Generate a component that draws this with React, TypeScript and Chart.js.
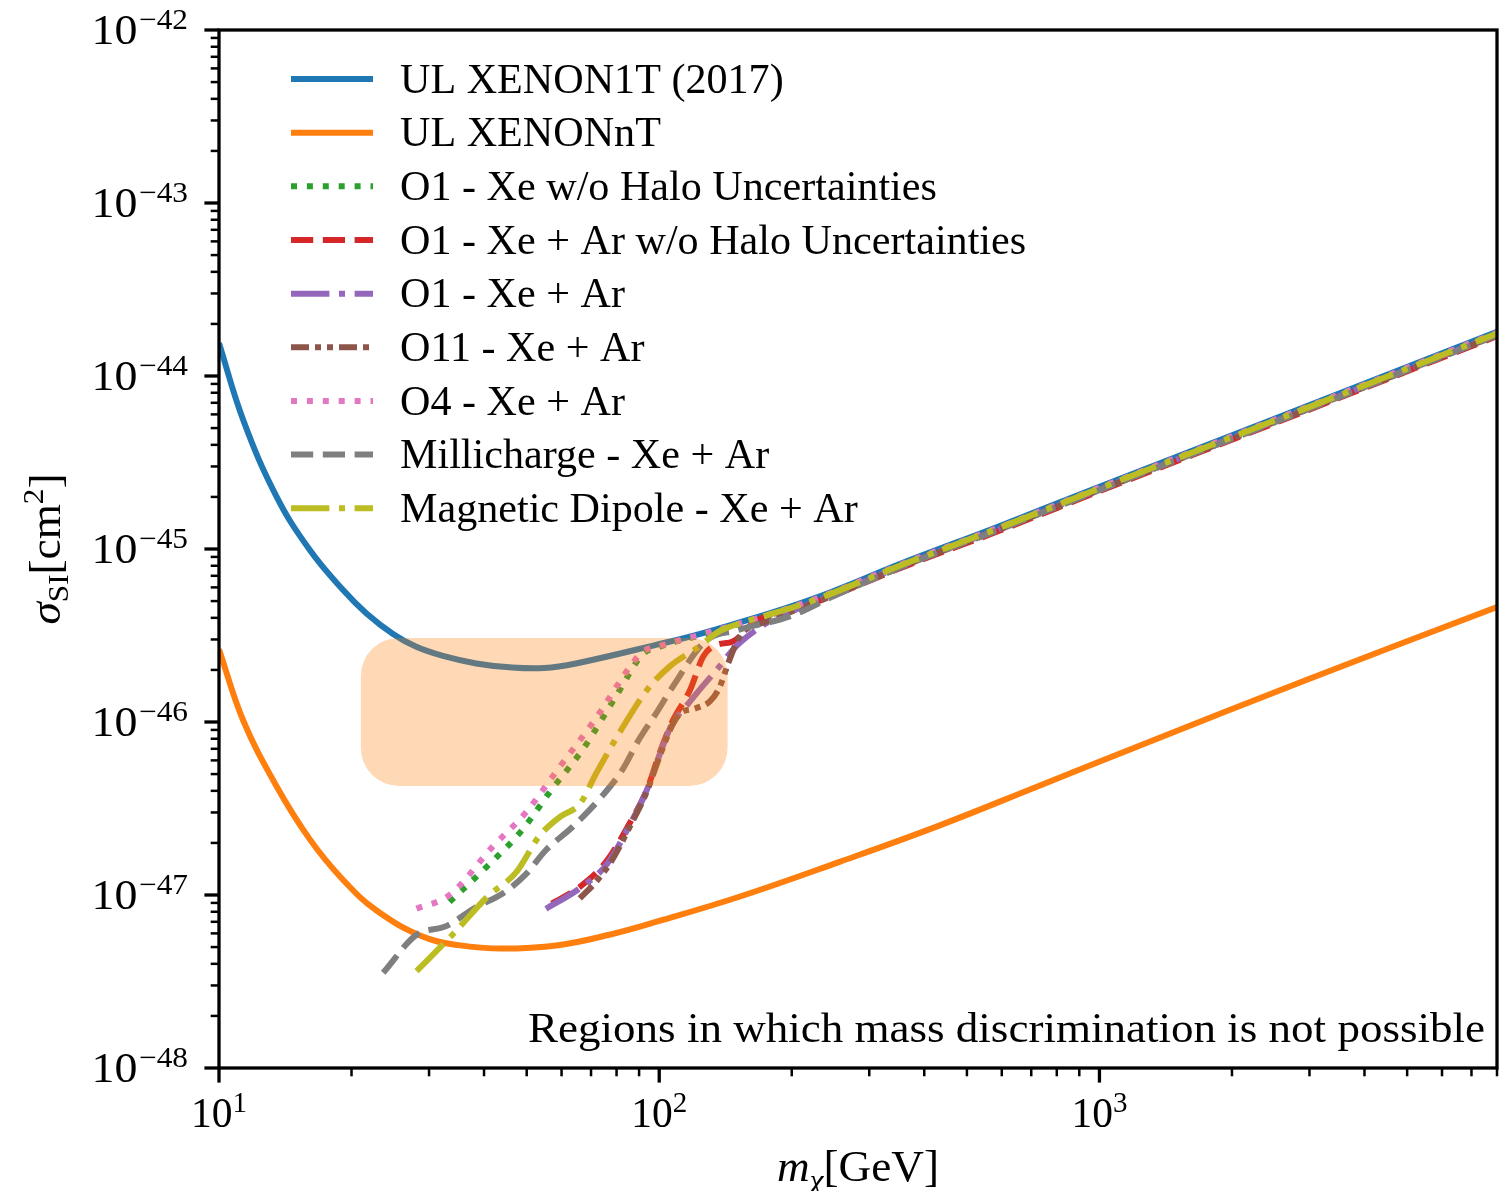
import React, { useEffect, useRef } from 'react';
import { Chart, registerables } from 'chart.js';

Chart.register(...registerables);

// ---------------- data (m_chi in GeV, sigma_SI in cm^2) ----------------
const massXenon1T = [10, 11.35, 13.51, 16.08, 19.14, 21.63, 24.85, 28.07, 32.26, 38.4, 45.7, 54.8, 64.7, 98.3, 128, 217, 366, 590, 1000, 2400, 8000];
const sigmaXenon1T = [1.55e-44, 5.57e-45, 2.01e-45, 9.86e-46, 5.79e-46, 4.24e-46, 3.23e-46, 2.72e-46, 2.41e-46, 2.18e-46, 2.07e-46, 2.05e-46, 2.18e-46, 2.79e-46, 3.31e-46, 5.01e-46, 8.51e-46, 1.35e-45, 2.29e-45, 5.43e-45, 1.8e-44];

const massXenonNT = [10, 11.35, 13.5, 16.1, 19.1, 22.8, 29, 35, 44, 59, 77, 100, 152, 256, 431, 728, 1225, 3000, 8000];
const sigmaXenonNT = [2.63e-46, 1.02e-46, 4.27e-47, 2.09e-47, 1.23e-47, 8.13e-48, 5.75e-48, 5.13e-48, 4.9e-48, 5.13e-48, 5.89e-48, 7.08e-48, 9.77e-48, 1.55e-47, 2.51e-47, 4.27e-47, 7.24e-47, 1.78e-46, 4.62e-46];

const massO1Xe = [33.4, 40.5, 48.6, 56.6, 67.4, 79.8, 91.6, 100, 128, 217, 366, 590, 1000, 2400, 8000];
const sigmaO1Xe = [9.12e-48, 1.45e-47, 2.34e-47, 3.98e-47, 7.08e-47, 1.41e-46, 2.45e-46, 2.72e-46, 3.24e-46, 4.9e-46, 8.32e-46, 1.32e-45, 2.24e-45, 5.31e-45, 1.76e-44];

const massO1XeArNoHalo = [57, 66.2, 76.1, 85.9, 93.8, 100.5, 107, 117.5, 126, 135, 147, 165, 217, 366, 590, 1000, 2400, 8000];
const sigmaO1XeArNoHalo = [8.91e-48, 1.12e-47, 1.58e-47, 2.63e-47, 4.07e-47, 6.76e-47, 1.0e-46, 1.53e-46, 2.4e-46, 2.79e-46, 2.92e-46, 3.8e-46, 4.73e-46, 8.04e-46, 1.27e-45, 2.16e-45, 5.13e-45, 1.7e-44];

const massO1XeAr = [55.3, 66.2, 76.1, 85.9, 93.8, 100.5, 107, 115, 122, 138, 145, 152, 175, 188, 250, 366, 590, 1000, 2400, 8000];
const sigmaO1XeAr = [8.32e-48, 1.1e-47, 1.51e-47, 2.57e-47, 4.07e-47, 6.61e-47, 9.77e-47, 1.23e-46, 1.48e-46, 2.14e-46, 2.51e-46, 2.85e-46, 3.72e-46, 4.07e-46, 5.5e-46, 8.22e-46, 1.3e-45, 2.21e-45, 5.25e-45, 1.74e-44];

const massO11XeAr = [66, 72, 78, 85.9, 93.8, 100.5, 107, 111.6, 121, 130.5, 137, 143.5, 149.5, 155, 175, 250, 366, 590, 1000, 2400, 8000];
const sigmaO11XeAr = [9.55e-48, 1.2e-47, 1.58e-47, 2.51e-47, 3.98e-47, 6.46e-47, 9.55e-47, 1.12e-46, 1.2e-46, 1.32e-46, 1.58e-46, 2.19e-46, 2.85e-46, 3.31e-46, 3.8e-46, 5.43e-46, 8.13e-46, 1.29e-45, 2.19e-45, 5.19e-45, 1.72e-44];

const massO4XeAr = [28.1, 33.4, 41.9, 49.9, 58.6, 71.8, 87, 91.6, 100, 128, 217, 366, 590, 1000, 2400, 8000];
const sigmaO4XeAr = [8.32e-48, 1.0e-47, 1.91e-47, 3.02e-47, 5.25e-47, 1.05e-46, 2.19e-46, 2.54e-46, 2.75e-46, 3.27e-46, 4.95e-46, 8.41e-46, 1.33e-45, 2.26e-45, 5.37e-45, 1.78e-44];

const massMillicharge = [23.6, 28.1, 32.8, 38.4, 44.1, 49.8, 55.3, 63.6, 74.1, 82.3, 90, 99, 107, 127.6, 150, 200, 250, 366, 590, 1000, 2400, 8000];
const sigmaMillicharge = [3.55e-48, 5.89e-48, 6.61e-48, 8.51e-48, 1.02e-47, 1.32e-47, 1.82e-47, 2.48e-47, 3.72e-47, 5.25e-47, 7.94e-47, 1.15e-46, 1.58e-46, 2.95e-46, 3.39e-46, 4.12e-46, 5.37e-46, 8.13e-46, 1.29e-45, 2.19e-45, 5.19e-45, 1.72e-44];

const massMagDipole = [28.1, 34.2, 40.7, 47.3, 53.4, 59.4, 66.2, 71.8, 81.1, 93.8, 105.5, 123, 137, 160, 217, 366, 590, 1000, 2400, 8000];
const sigmaMagDipole = [3.63e-48, 6.03e-48, 9.77e-48, 1.35e-47, 2.19e-47, 2.82e-47, 3.39e-47, 5.01e-47, 8.61e-47, 1.53e-46, 2.09e-46, 2.72e-46, 3.35e-46, 3.85e-46, 4.9e-46, 8.32e-46, 1.32e-45, 2.24e-45, 5.31e-45, 1.76e-44];

const seriesLabels = [
  'UL XENON1T (2017)',
  'UL XENONnT',
  'O1 - Xe w/o Halo Uncertainties',
  'O1 - Xe + Ar w/o Halo Uncertainties',
  'O1 - Xe + Ar',
  'O11 - Xe + Ar',
  'O4 - Xe + Ar',
  'Millicharge - Xe + Ar',
  'Magnetic Dipole - Xe + Ar',
];

// axis limits and ticks
const xLimits = [10, 8000];
const yLimits = [1e-48, 1e-42];
const xMajorTicks = [10, 100, 1000];
const xTickExponents = ['1', '2', '3'];
const yMajorTicks = [1e-48, 1e-47, 1e-46, 1e-45, 1e-44, 1e-43, 1e-42];
const yTickExponents = ['\u221248', '\u221247', '\u221246', '\u221245', '\u221244', '\u221243', '\u221242'];
const minorMultipliers = [2, 3, 4, 5, 6, 7, 8, 9];

// shaded region (mass range, sigma range)
const regionMass = [21, 143];
const regionSigma = [4.27e-47, 3.06e-46];
const annotationText = 'Regions in which mass discrimination is not possible';

// ---------------- styles ----------------
const LW = 6;
const DOTTED = [LW * 1, LW * 1.65];
const DASHED = [LW * 3.7, LW * 1.6];
const DASHDOT = [LW * 6.4, LW * 1.6, LW * 1, LW * 1.6];
const DASHDOTDOT = [LW * 3, LW, LW, LW, LW, LW];

const seriesStyles = [
  { color: '#1f77b4', dash: [] as number[], smooth: true },
  { color: '#ff7f0e', dash: [] as number[], smooth: true },
  { color: '#2ca02c', dash: DOTTED, smooth: false },
  { color: '#d62728', dash: DASHED, smooth: false },
  { color: '#9467bd', dash: DASHDOT, smooth: false },
  { color: '#8c564b', dash: DASHDOTDOT, smooth: false },
  { color: '#e377c2', dash: DOTTED, smooth: false },
  { color: '#7f7f7f', dash: DASHED, smooth: false },
  { color: '#bcbd22', dash: DASHDOT, smooth: false },
];

const seriesData = [
  [massXenon1T, sigmaXenon1T],
  [massXenonNT, sigmaXenonNT],
  [massO1Xe, sigmaO1Xe],
  [massO1XeArNoHalo, sigmaO1XeArNoHalo],
  [massO1XeAr, sigmaO1XeAr],
  [massO11XeAr, sigmaO11XeAr],
  [massO4XeAr, sigmaO4XeAr],
  [massMillicharge, sigmaMillicharge],
  [massMagDipole, sigmaMagDipole],
];

const SERIF = '"Liberation Serif", "Times New Roman", serif';
const FS = 41.5;
const SUP = 29;

type Run = { t: string; size: number; italic?: boolean; dy?: number };

function fontOf(r: Run) {
  return `${r.italic ? 'italic ' : ''}${r.size}px ${SERIF}`;
}

function runsWidth(ctx: CanvasRenderingContext2D, runs: Run[], sx: number) {
  let w = 0;
  for (const r of runs) {
    ctx.font = fontOf(r);
    w += ctx.measureText(r.t).width * sx;
  }
  return w;
}

function drawRuns(ctx: CanvasRenderingContext2D, runs: Run[], x: number, y: number, sx: number) {
  let cx = x;
  for (const r of runs) {
    ctx.font = fontOf(r);
    const w = ctx.measureText(r.t).width * sx;
    ctx.save();
    ctx.translate(cx, y + (r.dy || 0));
    ctx.scale(sx, 1);
    ctx.textAlign = 'left';
    ctx.textBaseline = 'alphabetic';
    ctx.fillText(r.t, 0, 0);
    ctx.restore();
    cx += w;
  }
}

function roundRectPath(ctx: CanvasRenderingContext2D, x: number, y: number, w: number, h: number, r: number) {
  ctx.beginPath();
  ctx.moveTo(x + r, y);
  ctx.lineTo(x + w - r, y);
  ctx.arcTo(x + w, y, x + w, y + r, r);
  ctx.lineTo(x + w, y + h - r);
  ctx.arcTo(x + w, y + h, x + w - r, y + h, r);
  ctx.lineTo(x + r, y + h);
  ctx.arcTo(x, y + h, x, y + h - r, r);
  ctx.lineTo(x, y + r);
  ctx.arcTo(x, y, x + r, y, r);
  ctx.closePath();
}

const overlayPlugin = {
  id: 'overlay',
  afterDatasetsDraw(chart: any) {
    const ctx: CanvasRenderingContext2D = chart.ctx;
    const a = chart.chartArea;
    const xs = chart.scales.x;
    const ys = chart.scales.y;
    ctx.save();

    // shaded region (drawn above the curves, translucent)
    const rx0 = xs.getPixelForValue(regionMass[0]);
    const rx1 = xs.getPixelForValue(regionMass[1]);
    const ry0 = ys.getPixelForValue(regionSigma[1]);
    const ry1 = ys.getPixelForValue(regionSigma[0]);
    ctx.fillStyle = 'rgba(255,127,14,0.3)';
    roundRectPath(ctx, rx0, ry0, rx1 - rx0, ry1 - ry0, 38);
    ctx.fill();

    // ticks
    ctx.strokeStyle = '#000';
    ctx.setLineDash([]);
    ctx.lineCap = 'butt';
    ctx.lineWidth = 2.5;
    for (const d of xMajorTicks) {
      for (const k of minorMultipliers) {
        const v = d * k;
        if (v > xLimits[1] + 1e-9) continue;
        const px = xs.getPixelForValue(v);
        ctx.beginPath();
        ctx.moveTo(px, a.bottom);
        ctx.lineTo(px, a.bottom + 8.3);
        ctx.stroke();
      }
    }
    for (const d of yMajorTicks.slice(0, -1)) {
      for (const k of minorMultipliers) {
        const py = ys.getPixelForValue(d * k);
        ctx.beginPath();
        ctx.moveTo(a.left, py);
        ctx.lineTo(a.left - 8.3, py);
        ctx.stroke();
      }
    }
    ctx.lineWidth = 3.3;
    for (const v of xMajorTicks) {
      const px = xs.getPixelForValue(v);
      ctx.beginPath();
      ctx.moveTo(px, a.bottom);
      ctx.lineTo(px, a.bottom + 14.6);
      ctx.stroke();
    }
    for (const v of yMajorTicks) {
      const py = ys.getPixelForValue(v);
      ctx.beginPath();
      ctx.moveTo(a.left, py);
      ctx.lineTo(a.left - 14.6, py);
      ctx.stroke();
    }

    // spines
    ctx.lineWidth = 3.3;
    ctx.strokeRect(a.left, a.top, a.right - a.left, a.bottom - a.top);

    ctx.fillStyle = '#000';
    // tick labels
    xMajorTicks.forEach((v, i) => {
      const px = xs.getPixelForValue(v);
      const runs: Run[] = [{ t: '10', size: FS }, { t: xTickExponents[i], size: SUP, dy: -15 }];
      const w = runsWidth(ctx, runs, 1);
      drawRuns(ctx, runs, px - w / 2, a.bottom + 59, 1);
    });
    yMajorTicks.forEach((v, i) => {
      const py = ys.getPixelForValue(v);
      const runs: Run[] = [
        { t: '10', size: FS + 1 },
        { t: ' ', size: 6 },
        { t: yTickExponents[i], size: SUP, dy: -15 },
      ];
      const w = runsWidth(ctx, runs, 1.08);
      drawRuns(ctx, runs, a.left - 31 - w, py + 13.5, 1.08);
    });

    // axis titles
    const xt: Run[] = [
      { t: 'm', size: FS + 2, italic: true },
      { t: '\u03c7', size: SUP + 1, italic: true, dy: 9 },
      { t: '[GeV]', size: FS + 2 },
    ];
    const xtw = runsWidth(ctx, xt, 1.04);
    drawRuns(ctx, xt, (a.left + a.right) / 2 - xtw / 2, 1181, 1.04);

    const yt: Run[] = [
      { t: '\u03c3', size: FS + 2, italic: true },
      { t: 'SI', size: SUP + 1, dy: 8 },
      { t: '[cm', size: FS + 2 },
      { t: '2', size: SUP + 1, dy: -17 },
      { t: ']', size: FS + 2 },
    ];
    const ytw = runsWidth(ctx, yt, 1.04);
    ctx.save();
    ctx.translate(60, (a.top + a.bottom) / 2);
    ctx.rotate(-Math.PI / 2);
    drawRuns(ctx, yt, -ytw / 2, 0, 1.04);
    ctx.restore();

    // legend
    const legendTop = 79;
    const legendStep = 53.66;
    seriesLabels.forEach((label, i) => {
      const y = legendTop + i * legendStep;
      const st = seriesStyles[i];
      ctx.save();
      ctx.strokeStyle = st.color;
      ctx.lineWidth = LW;
      ctx.lineCap = 'butt';
      ctx.setLineDash(st.dash);
      ctx.beginPath();
      ctx.moveTo(291, y);
      ctx.lineTo(373, y);
      ctx.stroke();
      ctx.restore();
      ctx.fillStyle = '#000';
      drawRuns(ctx, [{ t: label, size: FS }], 400, y + 13.6, 1.015);
    });

    // annotation text (lower right)
    const an: Run[] = [{ t: annotationText, size: FS }];
    const raw = runsWidth(ctx, an, 1);
    const sx = 957 / raw;
    drawRuns(ctx, an, 1485 - raw * sx, 1042, sx);

    ctx.restore();
  },
};

export default function App() {
  const canvasRef = useRef<HTMLCanvasElement | null>(null);

  useEffect(() => {
    const canvas = canvasRef.current;
    if (!canvas) return;
    const datasets = seriesData.map(([m, s], i) => ({
      label: seriesLabels[i],
      data: m.map((mv, j) => ({ x: mv, y: s[j] })),
      borderColor: seriesStyles[i].color,
      backgroundColor: seriesStyles[i].color,
      borderWidth: LW,
      borderDash: seriesStyles[i].dash,
      borderCapStyle: 'butt' as const,
      borderJoinStyle: 'round' as const,
      pointRadius: 0,
      pointHoverRadius: 0,
      fill: false,
      cubicInterpolationMode: seriesStyles[i].smooth ? ('default' as const) : ('monotone' as const),
      tension: seriesStyles[i].smooth ? 0.4 : 0,
      clip: 0,
      order: 100 - i,
    }));

    const chart = new Chart(canvas, {
      type: 'line',
      data: { datasets },
      options: {
        animation: false,
        responsive: false,
        devicePixelRatio: 1,
        events: [],
        layout: { padding: { left: 219, right: 14, top: 30, bottom: 123 } },
        plugins: { legend: { display: false }, tooltip: { enabled: false }, title: { display: false } },
        scales: {
          x: { type: 'logarithmic', min: xLimits[0], max: xLimits[1], bounds: 'data', display: false },
          y: { type: 'logarithmic', min: yLimits[0], max: yLimits[1], bounds: 'data', display: false },
        },
      },
      plugins: [overlayPlugin],
    });
    return () => chart.destroy();
  }, []);

  return (
    <div style={{ position: 'absolute', left: 0, top: 0, width: 1511, height: 1191, background: '#fff' }}>
      <canvas ref={canvasRef} width={1511} height={1191} style={{ display: 'block' }} />
    </div>
  );
}
